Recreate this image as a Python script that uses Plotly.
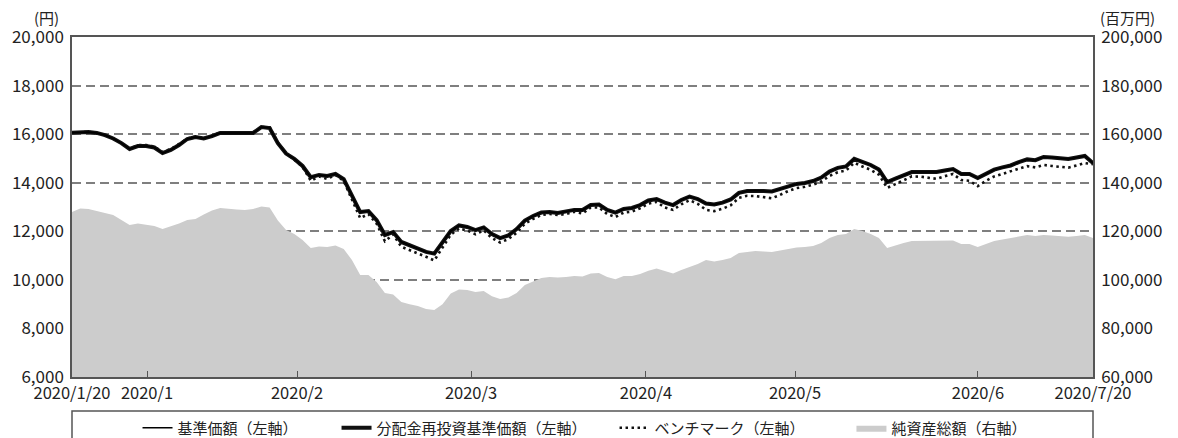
import plotly.graph_objects as go

# ---- data ----
idx = list(range(125))

nav = [16060, 16080, 16090, 16050, 15960, 15820, 15630, 15390, 15510, 15510,
       15450, 15220, 15350, 15550, 15800, 15880, 15820, 15920, 16050, 16050,
       16050, 16050, 16050, 16290, 16250, 15630, 15200, 14980, 14690, 14230,
       14320, 14280, 14360, 14150, 13450, 12790, 12830, 12460, 11850, 11970,
       11560, 11430, 11270, 11150, 11080, 11520, 12010, 12240, 12180, 12050,
       12160, 11890, 11720, 11830, 12090, 12440, 12630, 12770, 12790, 12750,
       12830, 12880, 12880, 13080, 13100, 12880, 12770, 12920, 12960, 13080,
       13270, 13330, 13180, 13080, 13290, 13430, 13330, 13140, 13100, 13180,
       13310, 13580, 13660, 13680, 13660, 13640, 13740, 13840, 13950, 13990,
       14070, 14210, 14460, 14610, 14670, 14980, 14850, 14730, 14540, 14030,
       14170, 14300, 14440, 14440, 14440, 14440, 14500, 14560, 14360, 14360,
       14190, 14380, 14540, 14630, 14710, 14850, 14960, 14930, 15060, 15040,
       15020, 14980, 15040, 15100, 14810]

nav_reinvest = list(nav)

benchmark = [16060, 16080, 16090, 16050, 15960, 15820, 15630, 15390, 15550, 15550,
             15490, 15260, 15390, 15590, 15820, 15900, 15840, 15940, 16070, 16070,
             16070, 16070, 16070, 16290, 16280, 15660, 15200, 14950, 14650, 14080,
             14260, 14160, 14320, 14070, 13330, 12540, 12710, 12310, 11590, 11870,
             11360, 11230, 11070, 10950, 10800, 11320, 11860, 12120, 12030, 11880,
             12040, 11720, 11540, 11680, 11940, 12310, 12510, 12670, 12710, 12670,
             12710, 12800, 12730, 12980, 12980, 12710, 12590, 12770, 12810, 12950,
             13140, 13210, 12980, 12880, 13110, 13280, 13130, 12880, 12830, 12930,
             13070, 13380, 13460, 13450, 13400, 13360, 13500, 13660, 13780, 13830,
             13920, 14050, 14280, 14430, 14500, 14820, 14670, 14530, 14330, 13790,
             13940, 14100, 14260, 14250, 14210, 14160, 14270, 14360, 14110, 14080,
             13860, 14080, 14260, 14370, 14460, 14590, 14680, 14630, 14730, 14690,
             14650, 14620, 14710, 14810, 14760]

net_assets = [127900, 129400, 129200, 128300, 127500, 126700, 124600, 122600, 123200, 122800,
              122200, 120900, 122000, 123200, 124600, 125100, 126900, 128600, 129600, 129200,
              129000, 128800, 129200, 130200, 129800, 124400, 120500, 118900, 116400, 113100,
              113700, 113500, 114100, 112700, 108200, 102000, 102000, 99100, 94600, 94000,
              90900, 90000, 89200, 88000, 87600, 90000, 94400, 96000, 95800, 95000,
              95400, 93300, 92100, 92700, 94600, 97900, 99500, 100800, 101200, 101000,
              101200, 101600, 101400, 102600, 102800, 101200, 100300, 101600, 101600, 102400,
              103800, 104700, 103600, 102600, 104100, 105300, 106500, 108200, 107600, 108200,
              109000, 111100, 111500, 111900, 111700, 111500, 112100, 112700, 113300, 113500,
              113900, 115200, 117200, 118500, 118900, 120900, 120100, 118900, 117200, 113100,
              114300, 115200, 116000, 116000, 116000, 116000, 116200, 116200, 114800, 114800,
              113500, 114800, 116000, 116600, 117200, 117800, 118500, 118100, 118500, 118300,
              118100, 117800, 118100, 118500, 117200]

x_tick_pos = [0, 9.11, 27.33, 48.46, 69.71, 87.81, 110.03, 124]
x_tick_text = ["2020/1/20", "2020/1", "2020/2", "2020/3", "2020/4", "2020/5", "2020/6", "2020/7/20"]
left_ticks = [6000, 8000, 10000, 12000, 14000, 16000, 18000, 20000]
right_ticks = [60000, 80000, 100000, 120000, 140000, 160000, 180000, 200000]

names = ["基準価額（左軸）", "分配金再投資基準価額（左軸）", "ベンチマーク（左軸）", "純資産総額（右軸）"]

FONT = "Noto Sans CJK JP"
AXC = "#555555"
TXT = "#222222"

fig = go.Figure()

fig.add_trace(go.Scatter(
    x=idx, y=net_assets, yaxis="y2", name=names[3], mode="lines",
    fill="tozeroy", fillcolor="#cccccc", line=dict(width=0, color="#cccccc"),
    legend="legend4", hoverinfo="skip"))

fig.add_trace(go.Scatter(
    x=idx, y=benchmark, name=names[2], mode="lines",
    line=dict(color="#111111", width=2.6, dash="2.5px,3.5px"),
    legend="legend3"))

fig.add_trace(go.Scatter(
    x=idx, y=nav_reinvest, name=names[1], mode="lines",
    line=dict(color="#111111", width=4),
    legend="legend2"))

fig.add_trace(go.Scatter(
    x=idx, y=nav, name=names[0], mode="lines",
    line=dict(color="#000000", width=1.5),
    legend="legend"))

leg_common = dict(orientation="h", xanchor="left", yanchor="middle",
                  xref="container", yref="container", y=0.0233,
                  bgcolor="rgba(0,0,0,0)", borderwidth=0,
                  font=dict(family=FONT, size=15, color=TXT))

fig.update_layout(
    width=1170, height=430,
    margin=dict(l=64, r=85, t=29, b=61, autoexpand=False),
    paper_bgcolor="white", plot_bgcolor="white",
    font=dict(family=FONT, size=16, color=TXT),
    showlegend=True,
    xaxis=dict(range=[0, 124], tickvals=x_tick_pos, ticktext=x_tick_text, tickangle=0,
               ticks="inside", ticklen=6, tickwidth=1.2, tickcolor=AXC,
               showgrid=False, zeroline=False, showline=True, linecolor=AXC,
               linewidth=1.5, mirror=True, tickfont=dict(size=16.5),
               automargin=False),
    yaxis=dict(range=[6000, 20000], tickvals=left_ticks, tickformat=",d",
               showgrid=True, gridcolor="#7f7f7f", gridwidth=1.5, griddash="9px,5px",
               zeroline=False, showline=True, linecolor=AXC, linewidth=1.5,
               ticks="", tickfont=dict(size=17), automargin=False,
               ticklabelstandoff=3),
    yaxis2=dict(range=[60000, 200000], tickvals=right_ticks, tickformat=",d",
                overlaying="y", side="right", showgrid=False, zeroline=False,
                showline=True, linecolor=AXC, linewidth=1.5, ticks="",
                tickfont=dict(size=17), automargin=False, ticklabelstandoff=3),
    legend=dict(leg_common, x=0.1107),
    legend2=dict(leg_common, x=0.2808),
    legend3=dict(leg_common, x=0.5184),
    legend4=dict(leg_common, x=0.7209),
    shapes=[dict(type="rect", xref="paper", yref="paper", x0=0, x1=1,
                 y0=-0.25, y1=-0.1, line=dict(color=AXC, width=1.5),
                 fillcolor="rgba(0,0,0,0)", layer="below")],
    annotations=[
        dict(text="(円)", xref="paper", yref="paper", x=-0.0245, y=1.058,
             showarrow=False, xanchor="center", yanchor="middle",
             font=dict(family=FONT, size=15, color=TXT)),
        dict(text="(百万円)", xref="paper", yref="paper", x=1.034, y=1.058,
             showarrow=False, xanchor="center", yanchor="middle",
             font=dict(family=FONT, size=15, color=TXT)),
    ],
)

fig.write_html("out.html")
